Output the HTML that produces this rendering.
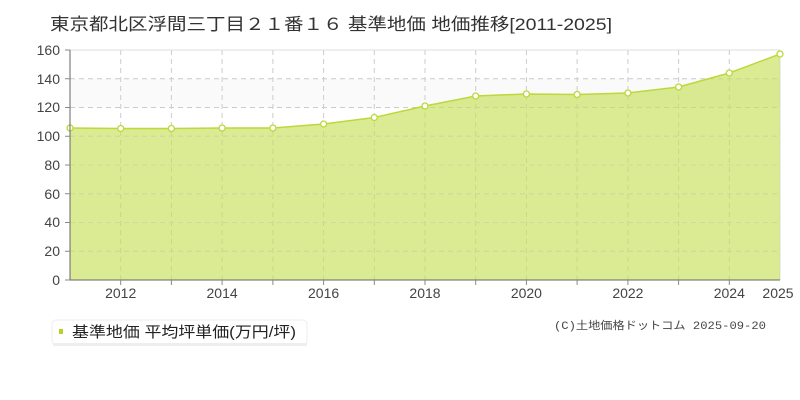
<!DOCTYPE html>
<html><head><meta charset="utf-8"><style>
body{margin:0;background:#fff;}
svg{display:block;font-family:"Liberation Sans","Noto Sans CJK JP",sans-serif;}
</style></head><body>
<svg width="800" height="400" viewBox="0 0 800 400" xmlns="http://www.w3.org/2000/svg">
<text x="50" y="30" font-size="17" fill="#333" textLength="562" lengthAdjust="spacingAndGlyphs">東京都北区浮間三丁目２１番１６ 基準地価 地価推移[2011-2025]</text>
<rect x="70" y="50" width="710" height="230" fill="#fff"/>
<rect x="70" y="78.75" width="710" height="28.75" fill="#fafafa"/>
<g stroke="#ccc" stroke-dasharray="5,4" fill="none">
<line x1="70" x2="780" y1="78.75" y2="78.75"/><line x1="70" x2="780" y1="107.5" y2="107.5"/>
<line x1="70" x2="780" y1="136.25" y2="136.25"/><line x1="70" x2="780" y1="165" y2="165"/>
<line x1="70" x2="780" y1="193.75" y2="193.75"/><line x1="70" x2="780" y1="222.5" y2="222.5"/>
<line x1="70" x2="780" y1="251.25" y2="251.25"/>
<line y1="50" y2="280" x1="120.7" x2="120.7"/><line y1="50" y2="280" x1="171.4" x2="171.4"/>
<line y1="50" y2="280" x1="222.1" x2="222.1"/><line y1="50" y2="280" x1="272.9" x2="272.9"/>
<line y1="50" y2="280" x1="323.6" x2="323.6"/><line y1="50" y2="280" x1="374.3" x2="374.3"/>
<line y1="50" y2="280" x1="425" x2="425"/><line y1="50" y2="280" x1="475.7" x2="475.7"/>
<line y1="50" y2="280" x1="526.4" x2="526.4"/><line y1="50" y2="280" x1="577.1" x2="577.1"/>
<line y1="50" y2="280" x1="627.9" x2="627.9"/><line y1="50" y2="280" x1="678.6" x2="678.6"/>
<line y1="50" y2="280" x1="729.3" x2="729.3"/>
</g>
<line x1="70" x2="780" y1="50" y2="50" stroke="#ddd"/>
<line x1="780" x2="780" y1="50" y2="280" stroke="#ddd"/>
<polygon fill="#c8e05a" fill-opacity="0.65" points="70,280 70,128 120.7,128.5 171.4,128.5 222.1,128 272.9,128 323.6,124 374.3,117.5 425,106 475.7,96 526.4,94 577.1,94.5 627.9,93 678.6,87 729.3,73 780,54 780,280"/>
<g stroke="#d8d8b0" stroke-dasharray="5,4" opacity="0.6">
<line x1="70" x2="780" y1="136.25" y2="136.25"/><line x1="70" x2="780" y1="165" y2="165"/>
<line x1="70" x2="780" y1="193.75" y2="193.75"/><line x1="70" x2="780" y1="222.5" y2="222.5"/>
<line x1="70" x2="780" y1="251.25" y2="251.25"/>
</g>
<polyline fill="none" stroke="#bcd83a" stroke-width="1.5" points="70,128 120.7,128.5 171.4,128.5 222.1,128 272.9,128 323.6,124 374.3,117.5 425,106 475.7,96 526.4,94 577.1,94.5 627.9,93 678.6,87 729.3,73 780,54"/>
<g fill="#fff" stroke="#bcd83a" stroke-width="1.3">
<circle cx="70" cy="128" r="3"/><circle cx="120.7" cy="128.5" r="3"/><circle cx="171.4" cy="128.5" r="3"/>
<circle cx="222.1" cy="128" r="3"/><circle cx="272.9" cy="128" r="3"/><circle cx="323.6" cy="124" r="3"/>
<circle cx="374.3" cy="117.5" r="3"/><circle cx="425" cy="106" r="3"/><circle cx="475.7" cy="96" r="3"/>
<circle cx="526.4" cy="94" r="3"/><circle cx="577.1" cy="94.5" r="3"/><circle cx="627.9" cy="93" r="3"/>
<circle cx="678.6" cy="87" r="3"/><circle cx="729.3" cy="73" r="3"/><circle cx="780" cy="54" r="3"/>
</g>
<line x1="70" x2="70" y1="50" y2="280" stroke="#666"/>
<line x1="70" x2="780" y1="280" y2="280" stroke="#666"/>
<g stroke="#888">
<line x1="65" x2="70" y1="50" y2="50"/><line x1="65" x2="70" y1="78.75" y2="78.75"/><line x1="65" x2="70" y1="107.5" y2="107.5"/>
<line x1="65" x2="70" y1="136.25" y2="136.25"/><line x1="65" x2="70" y1="165" y2="165"/><line x1="65" x2="70" y1="193.75" y2="193.75"/>
<line x1="65" x2="70" y1="222.5" y2="222.5"/><line x1="65" x2="70" y1="251.25" y2="251.25"/><line x1="65" x2="70" y1="280" y2="280"/>
<line y1="280" y2="285" x1="120.7" x2="120.7"/><line y1="280" y2="285" x1="171.4" x2="171.4"/><line y1="280" y2="285" x1="222.1" x2="222.1"/>
<line y1="280" y2="285" x1="272.9" x2="272.9"/><line y1="280" y2="285" x1="323.6" x2="323.6"/><line y1="280" y2="285" x1="374.3" x2="374.3"/>
<line y1="280" y2="285" x1="425" x2="425"/><line y1="280" y2="285" x1="475.7" x2="475.7"/><line y1="280" y2="285" x1="526.4" x2="526.4"/>
<line y1="280" y2="285" x1="577.1" x2="577.1"/><line y1="280" y2="285" x1="627.9" x2="627.9"/><line y1="280" y2="285" x1="678.6" x2="678.6"/>
<line y1="280" y2="285" x1="729.3" x2="729.3"/>
</g>
<g font-size="14" fill="#444" text-anchor="end">
<text x="60" y="55">160</text><text x="60" y="84">140</text><text x="60" y="112">120</text>
<text x="60" y="141">100</text><text x="60" y="170">80</text><text x="60" y="199">60</text>
<text x="60" y="227">40</text><text x="60" y="256">20</text><text x="60" y="285">0</text>
</g>
<g font-size="14" fill="#444" text-anchor="middle">
<text x="120.7" y="298">2012</text><text x="222.1" y="298">2014</text><text x="323.6" y="298">2016</text>
<text x="425" y="298">2018</text><text x="526.4" y="298">2020</text><text x="627.9" y="298">2022</text>
<text x="729.3" y="298">2024</text><text x="778" y="298">2025</text>
</g>
<rect x="52" y="320" width="255" height="25" rx="4" fill="#fff" stroke="#eee"/>
<rect x="53" y="343" width="254" height="3" fill="#eee"/>
<rect x="59" y="329" width="4" height="5" fill="#b5d42a"/>
<text x="72" y="337" font-size="15" fill="#222" textLength="224" lengthAdjust="spacingAndGlyphs">基準地価 平均坪単価(万円/坪)</text>
<text x="554" y="329" font-size="11" fill="#444" textLength="212" lengthAdjust="spacingAndGlyphs" font-family="Liberation Mono,'Noto Sans CJK JP',monospace">(C)土地価格ドットコム 2025-09-20</text>
</svg>
</body></html>
